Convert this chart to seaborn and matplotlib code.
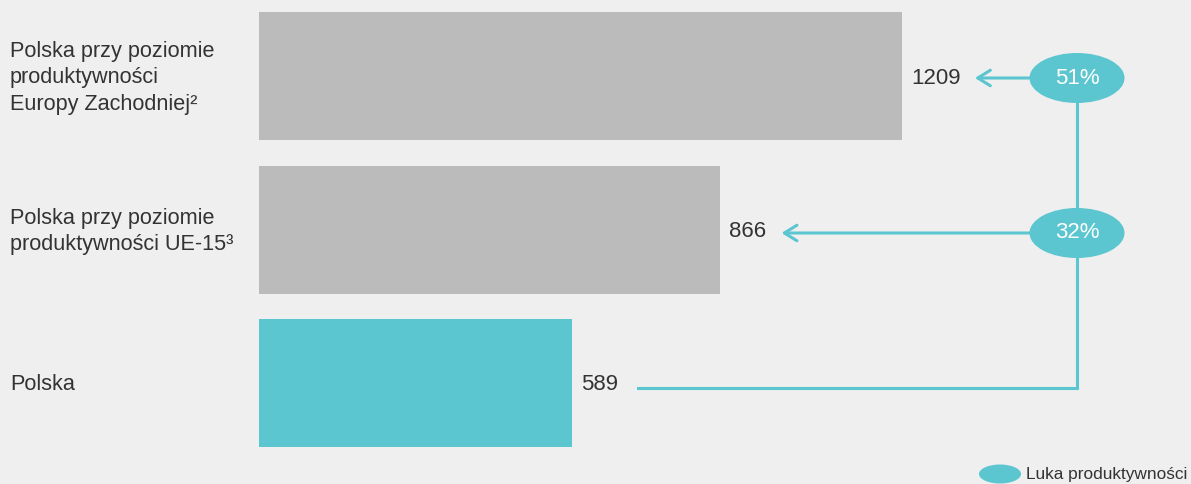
import matplotlib
matplotlib.use("Agg")
import matplotlib.pyplot as plt
from matplotlib.patches import Ellipse
import seaborn as sns

# --- data -------------------------------------------------------------
categories = [
    "Polska przy poziomie\nproduktywności\nEuropy Zachodniej²",
    "Polska przy poziomie\nproduktywności UE-15³",
    "Polska",
]
values = [1209, 866, 589]
gap_labels = ["51%", "32%"]
legend_label = "Luka produktywności"

# --- style ------------------------------------------------------------
BG = "#efefef"
GREY = "#bbbbbb"
TEAL = "#5bc6cf"
TEXT = "#333333"

sns.set_theme(style="white")
plt.rcParams["font.family"] = ["Liberation Sans", "DejaVu Sans"]

W, H, DPI = 1191, 484, 100
fig = plt.figure(figsize=(W / DPI, H / DPI), dpi=DPI, facecolor=BG)
ax = fig.add_axes([0, 0, 1, 1])
ax.set_facecolor(BG)

# pixel <-> data mapping for the layout
X0_PX, PX_PER_UNIT = 259, 0.5318
Y0_PX, ROW_PX = 76, 153.5


def xd(px):
    return (px - X0_PX) / PX_PER_UNIT


def yd(py):
    return (py - Y0_PX) / ROW_PX


sns.barplot(
    x=values, y=list(range(len(values))), orient="h",
    hue=list(range(len(values))), palette=[GREY, GREY, TEAL],
    legend=False, width=128 / ROW_PX, ax=ax, saturation=1,
    linewidth=0, edgecolor="none",
)

ax.set_xlim(xd(0), xd(W))
ax.set_ylim(yd(H), yd(0))
ax.set_axis_off()

# category labels on the left
for i, cat in enumerate(categories):
    ax.text(xd(10), i + yd(78) - yd(76), cat, ha="left", va="center",
            fontsize=15.6, color=TEXT, linespacing=1.37)

# value labels at the bar ends
for i, v in enumerate(values):
    ax.text(v + 9 / PX_PER_UNIT, i + yd(78) - yd(76), str(v), ha="left",
            va="center", fontsize=16, color=TEXT)

# gap connector: vertical spine, ellipses and arrows
ell_x = xd(1077)
ell_w, ell_h = 95 / PX_PER_UNIT, 50 / ROW_PX
lw = 2.2
tips = [values[0] + xd(975) - xd(902), values[1] + xd(780) - xd(718)]
row_y = [yd(78), yd(233)]
base_y = yd(388)
line_start = values[2] + xd(637) - xd(571)

ax.plot([ell_x, ell_x], [row_y[0], base_y], color=TEAL, lw=lw,
        solid_capstyle="butt", zorder=3)
ax.plot([line_start, ell_x], [base_y, base_y], color=TEAL, lw=lw,
        solid_capstyle="projecting", zorder=3)

for tip, y, lab in zip(tips, row_y, gap_labels):
    ax.annotate("", xy=(tip, y), xytext=(ell_x, y),
                arrowprops=dict(arrowstyle="->,head_length=0.45,head_width=0.28",
                                color=TEAL, lw=lw, mutation_scale=20,
                                shrinkA=0, shrinkB=0),
                zorder=3)
    ax.add_patch(Ellipse((ell_x, y), ell_w, ell_h, facecolor=TEAL,
                         edgecolor="none", zorder=4))
    ax.text(ell_x, y, lab, ha="center", va="center", fontsize=16,
            color="white", zorder=5)

# legend
ax.add_patch(Ellipse((xd(1000), yd(474)), 42 / PX_PER_UNIT, 19 / ROW_PX,
                     facecolor=TEAL, edgecolor="none", clip_on=True))
ax.text(xd(1026), yd(474), legend_label, ha="left", va="center",
        fontsize=12.4, color=TEXT)

fig.savefig("out.png", dpi=DPI, facecolor=BG)
